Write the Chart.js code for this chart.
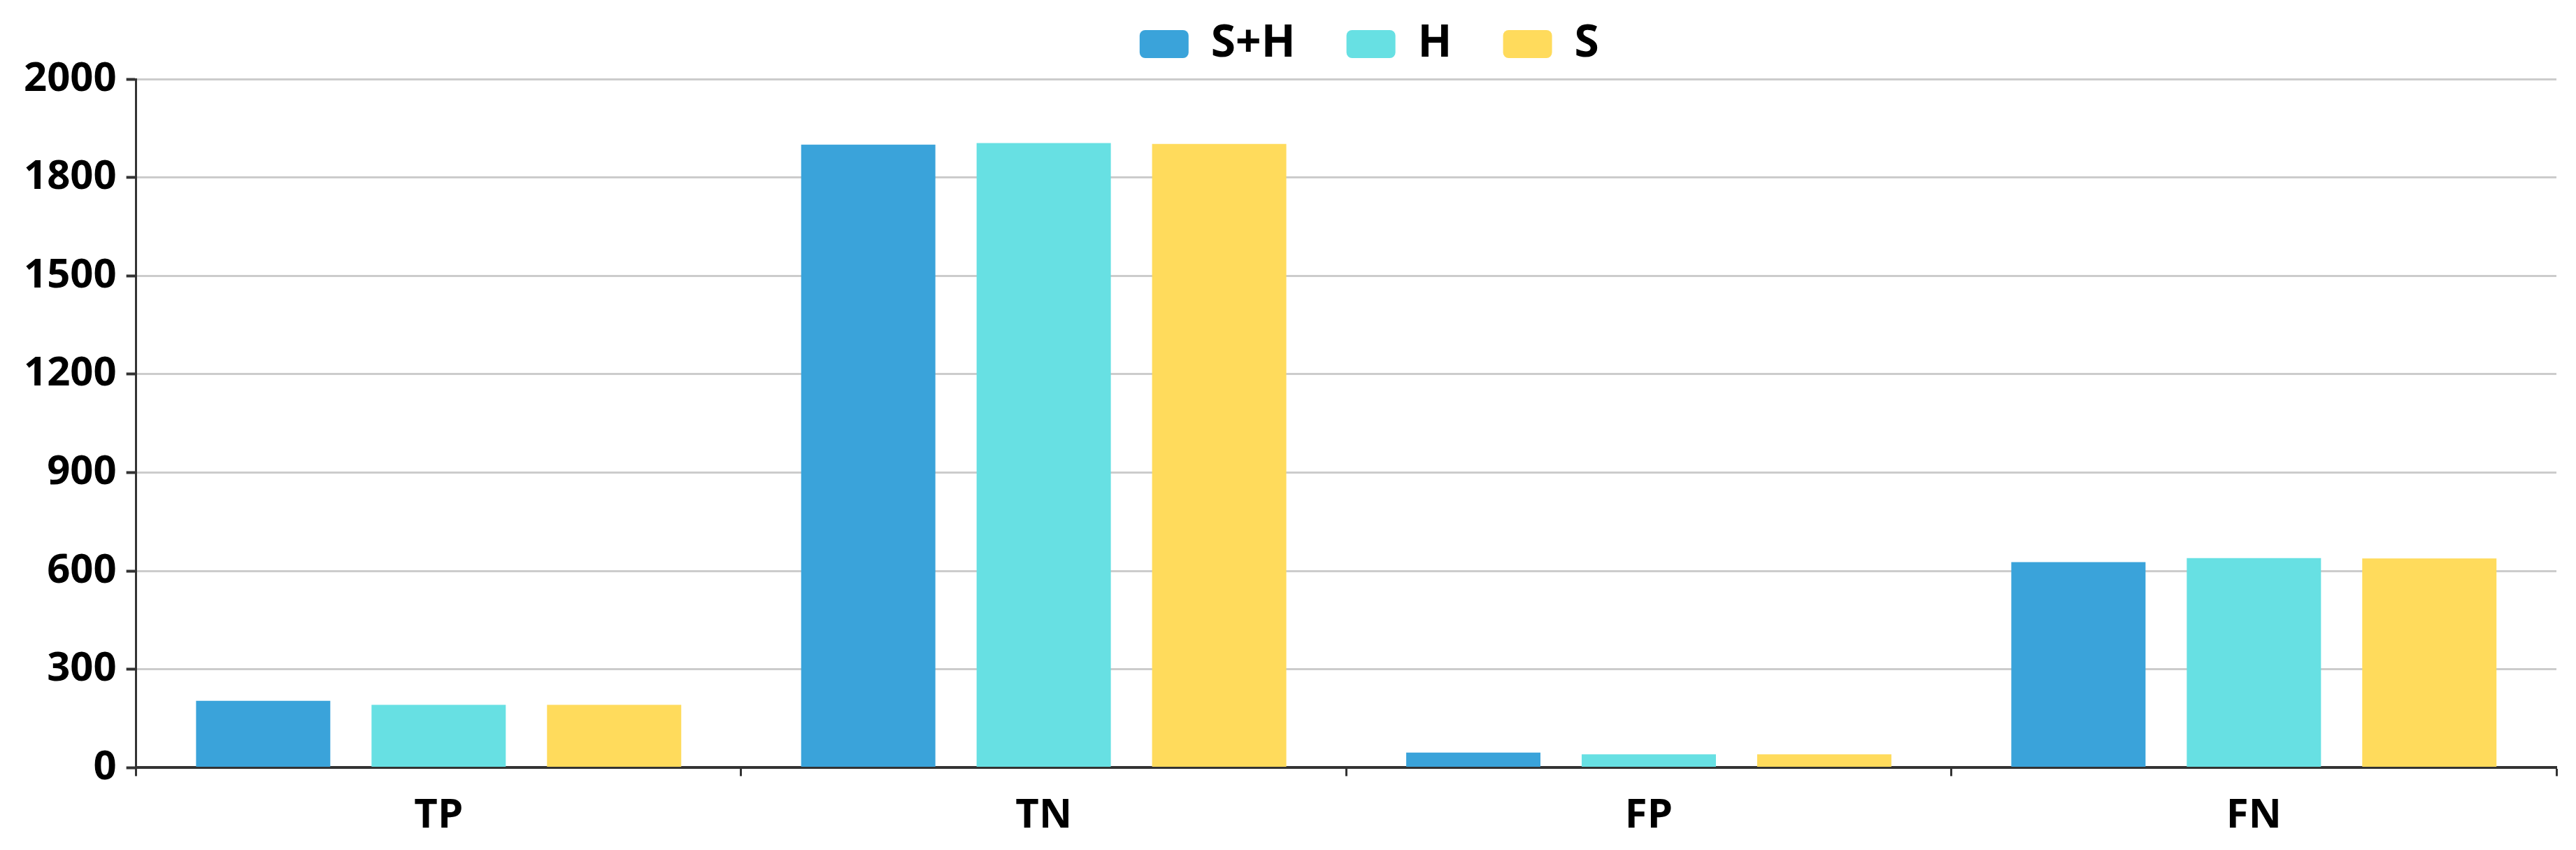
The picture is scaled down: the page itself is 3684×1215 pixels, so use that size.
<!DOCTYPE html>
<html>
<head>
<meta charset="utf-8">
<script src="https://cdn.jsdelivr.net/npm/chart.js@4.4.1/dist/chart.umd.min.js"></script>
<style>
  html, body { margin: 0; padding: 0; background: #ffffff; }
  #wrap { width: 3684px; height: 1215px; }
</style>
</head>
<body>
<div id="wrap"><canvas id="c" width="3684" height="1215"></canvas></div>
<script>
const categories = ['TP', 'TN', 'FP', 'FN'];
const seriesNames = ['S+H', 'H', 'S'];
const valuesSH = [204, 1900, 46, 627];
const valuesH = [192, 1905, 41, 639];
const valuesS = [192, 1902, 41, 638];
const tickValues = [0, 300, 600, 900, 1200, 1500, 1800, 2100];
const tickLabels = ['0', '300', '600', '900', '1200', '1500', '1800', '2000'];
const colors = ['#3AA3DA', '#67E0E3', '#FFDB5C'];

const FONT = '"Open Sans", "Noto Sans", sans-serif';

const ds = [valuesSH, valuesH, valuesS].map((vals, i) => ({
  label: seriesNames[i],
  data: vals,
  backgroundColor: colors[i],
  borderWidth: 0,
  categoryPercentage: 0.87,
  barPercentage: 0.765
}));

const legendShift = {
  id: 'legendShift',
  beforeInit(chart) {
    const lg = chart.legend;
    if (!lg) return;
    const origDraw = lg.draw;
    lg.draw = function () {
      const ctx = this.ctx;
      ctx.save();
      ctx.translate(33, -8);
      origDraw.call(this);
      ctx.restore();
    };
  }
};

new Chart(document.getElementById('c'), {
  type: 'bar',
  data: { labels: categories, datasets: ds },
  plugins: [legendShift],
  options: {
    responsive: false,
    animation: false,
    layout: { padding: { left: 20, right: 28, top: -34, bottom: -8 } },
    plugins: {
      tooltip: { enabled: false },
      legend: {
        position: 'top',
        fullSize: false,
        labels: {
          boxWidth: 70,
          boxHeight: 40,
          useBorderRadius: true,
          borderRadius: 8,
          padding: 73,
          color: '#000',
          font: { family: FONT, size: 64, weight: 'bold' }
        }
      }
    },
    scales: {
      x: {
        grid: {
          offset: true,
          drawOnChartArea: false,
          drawTicks: true,
          tickLength: 12,
          tickColor: '#333',
          tickWidth: 3
        },
        border: { display: true, color: '#333', width: 4 },
        ticks: {
          color: '#000',
          padding: 22,
          font: { family: FONT, size: 58, weight: 'bold' }
        }
      },
      y: {
        min: 0,
        max: 2100,
        afterBuildTicks: (axis) => { axis.ticks = tickValues.map(v => ({ value: v })); },
        grid: {
          color: '#cccccc',
          lineWidth: 3,
          drawTicks: true,
          tickLength: 14,
          tickColor: '#333',
          tickWidth: 4
        },
        border: { display: true, color: '#333', width: 3 },
        ticks: {
          color: '#000',
          padding: 14,
          font: { family: FONT, size: 58, weight: 'bold' },
          callback: (value, index) => tickLabels[index]
        }
      }
    }
  }
});
</script>
</body>
</html>
